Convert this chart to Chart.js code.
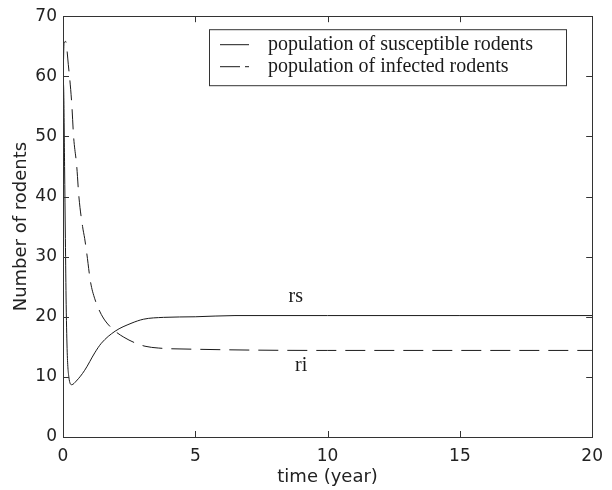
<!DOCTYPE html>
<html>
<head>
<meta charset="utf-8">
<script src="https://cdn.jsdelivr.net/npm/chart.js@4.4.1/dist/chart.umd.min.js"></script>
<style>
  html, body { margin: 0; padding: 0; background: #fff; }
  #wrap { width: 612px; height: 490px; }
</style>
</head>
<body>
<div id="wrap"><canvas id="myChart" width="612" height="490"></canvas></div>
<script>
// values
const timeRs = [0, 0.03, 0.06, 0.09, 0.12, 0.16, 0.22, 0.33, 0.5, 0.82, 1.2, 1.45, 1.97, 2.57, 3.05, 3.8, 5, 6.5, 10, 15, 20];
const rsValues = [60, 57, 45, 33, 22, 14, 10, 8.7, 9.3, 11.1, 14, 15.6, 17.6, 18.9, 19.6, 19.9, 20.0, 20.2, 20.2, 20.2, 20.2];

const timeRi = [0, 0.04, 0.1, 0.2, 0.33, 0.4, 0.52, 0.6, 0.74, 0.82, 0.9, 1.04, 1.2, 1.4, 1.6, 1.97, 2.3, 2.7, 3.1, 3.6, 5, 10, 20];
const riValues = [58, 65.5, 65.8, 62, 55.5, 50, 45, 40, 35, 33, 30.5, 25.8, 23, 20.8, 19.3, 17.6, 16.6, 15.7, 15.1, 14.8, 14.6, 14.4, 14.4];

const xTicks = [0, 5, 10, 15, 20];
const yTicks = [0, 10, 20, 30, 40, 50, 60, 70];
const seriesNames = ["population of susceptible rodents", "population of infected rodents"];
const curveLabels = ["rs", "ri"];

const ink = "#1a1a1a";
const sansFont = "'DejaVu Sans', sans-serif";
const serifFont = "'Liberation Serif', 'Times New Roman', serif";

function toPoints(xs, ys) {
  return xs.map((x, i) => ({ x: x, y: ys[i] }));
}

// frame, inward ticks, boxed legend and the rs/ri labels
const matlabLook = {
  id: "matlabLook",
  afterDraw(chart) {
    const c = chart.ctx;
    const a = chart.chartArea;
    const xs = chart.scales.x;
    const ys = chart.scales.y;
    const len = 6;
    c.save();
    c.strokeStyle = "#333";
    c.lineWidth = 1;
    c.strokeRect(Math.round(a.left) + 0.5, Math.round(a.top) + 0.5,
      Math.round(a.right - a.left), Math.round(a.bottom - a.top));
    c.beginPath();
    xTicks.forEach(v => {
      const px = Math.round(xs.getPixelForValue(v)) + 0.5;
      c.moveTo(px, a.bottom); c.lineTo(px, a.bottom - len);
      c.moveTo(px, a.top); c.lineTo(px, a.top + len);
    });
    yTicks.forEach(v => {
      const py = Math.round(ys.getPixelForValue(v)) + 0.5;
      c.moveTo(a.left, py); c.lineTo(a.left + len, py);
      c.moveTo(a.right, py); c.lineTo(a.right - len, py);
    });
    c.stroke();

    // legend box
    const bx = a.left + 146, by = a.top + 13, bw = 357, bh = 56;
    c.fillStyle = "#fff";
    c.fillRect(bx, by, bw, bh);
    c.strokeStyle = "#333";
    c.strokeRect(bx + 0.5, by + 0.5, bw, bh);
    c.strokeStyle = ink;
    c.font = "20px " + serifFont;
    c.fillStyle = ink;
    c.textBaseline = "middle";
    c.textAlign = "left";
    [0, 1].forEach(i => {
      const ly = by + 15 + i * 22 + 0.5;
      c.setLineDash(i === 0 ? [] : [20, 5]);
      c.beginPath();
      c.moveTo(bx + 11, ly); c.lineTo(bx + 40, ly);
      c.stroke();
      c.fillText(seriesNames[i], bx + 59, ly);
    });
    c.setLineDash([]);

    // curve labels
    c.textAlign = "center";
    c.fillText(curveLabels[0], xs.getPixelForValue(8.8), ys.getPixelForValue(23.4));
    c.fillText(curveLabels[1], xs.getPixelForValue(9.0), ys.getPixelForValue(11.9));
    c.restore();
  }
};

const ctx = document.getElementById("myChart");

new Chart(ctx, {
  type: "line",
  data: {
    datasets: [
      {
        label: seriesNames[0],
        data: toPoints(timeRs, rsValues),
        borderColor: ink,
        borderWidth: 1,
        pointRadius: 0,
        cubicInterpolationMode: "monotone",
        fill: false,
      },
      {
        label: seriesNames[1],
        data: toPoints(timeRi, riValues),
        borderColor: ink,
        borderWidth: 1,
        borderDash: [20, 9],
        pointRadius: 0,
        cubicInterpolationMode: "monotone",
        fill: false,
      },
    ],
  },
  options: {
    responsive: false,
    animation: false,
    layout: { padding: { left: 0, right: 11, top: 15, bottom: 0 } },
    plugins: {
      legend: { display: false },
      tooltip: { enabled: false },
    },
    scales: {
      x: {
        type: "linear",
        min: 0,
        max: 20,
        afterBuildTicks: s => { s.ticks = xTicks.map(v => ({ value: v })); },
        afterFit: s => { s.height = 53; },
        grid: { display: false, drawTicks: false },
        border: { display: false },
        ticks: { color: "#222", font: { family: sansFont, size: 17 }, padding: 9, maxRotation: 0 },
        title: {
          display: true,
          text: "time (year)",
          color: "#222",
          font: { family: sansFont, size: 18 },
          padding: { top: 0, bottom: 2 },
        },
      },
      y: {
        min: 0,
        max: 70,
        afterBuildTicks: s => { s.ticks = yTicks.map(v => ({ value: v })); },
        afterFit: s => { s.width = 63; },
        grid: { display: false, drawTicks: false },
        border: { display: false },
        ticks: { color: "#222", font: { family: sansFont, size: 17 }, padding: 6 },
        title: {
          display: true,
          text: "Number of rodents",
          color: "#222",
          font: { family: sansFont, size: 18 },
          padding: { top: 11, bottom: 0 },
        },
      },
    },
  },
  plugins: [matlabLook],
});
</script>
</body>
</html>
